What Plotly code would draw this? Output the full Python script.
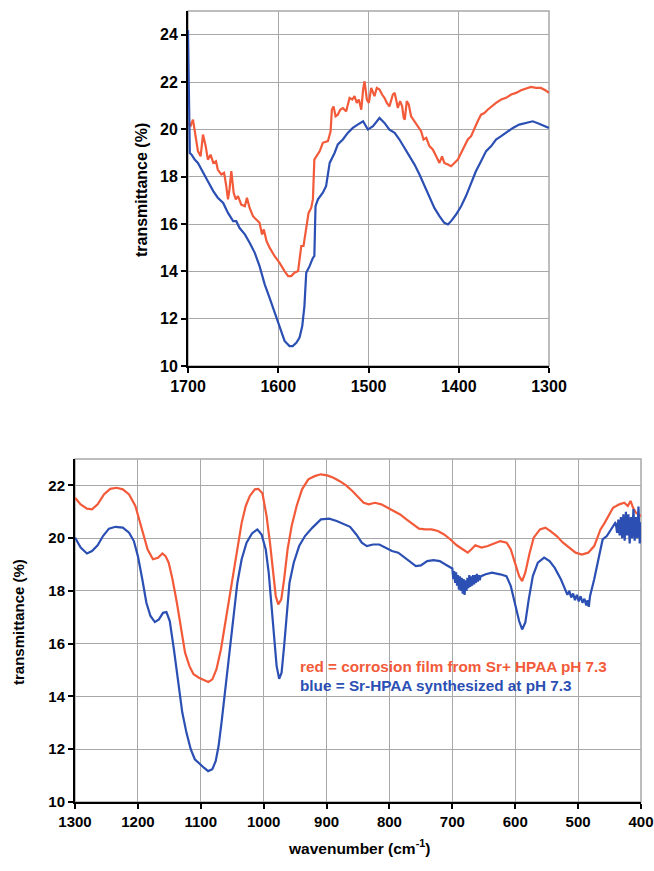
import plotly.graph_objects as go

# ---------------- data: top panel (1700-1300 cm-1) ----------------
top_wn_red = [1700, 1697, 1694.5, 1692.6, 1689, 1686, 1683.4, 1680.4, 1678, 1675, 1672, 1669, 1667, 1663, 1660,
              1657.6, 1655.7, 1654, 1652, 1649.4, 1647, 1644.6, 1641, 1637, 1634.7, 1631.7, 1628, 1624.4, 1620.7,
              1618, 1616, 1613, 1609.6, 1604, 1598.5, 1593, 1589, 1585.6, 1582, 1578, 1576.4, 1574.5, 1572, 1569,
              1566.4, 1563.5, 1561.6, 1560, 1558, 1554, 1550.6, 1545, 1542, 1540.6, 1538.7, 1536.5, 1534, 1531.4,
              1528.4, 1524.7, 1521, 1518, 1515.5, 1513, 1510.7, 1508, 1506, 1504.4, 1501.8, 1499.6, 1497, 1495,
              1493.4, 1490.8, 1487.8, 1485, 1482.3, 1479.7, 1476.8, 1473, 1471, 1469.4, 1467.5, 1465, 1462.7, 1461,
              1459.8, 1457.6, 1455.4, 1452.8, 1449, 1445.4, 1441.7, 1439, 1436, 1432.5, 1428.8, 1425, 1421.4, 1418.5,
              1416, 1412, 1408.5, 1404.8, 1401, 1397.4, 1393.7, 1390, 1386.3, 1382.7, 1379, 1375.3, 1371.6, 1368,
              1364, 1358.7, 1353, 1347.6, 1342, 1336.5, 1331, 1325.5, 1320, 1314.4, 1309, 1304, 1300]
top_t_red = [20.27, 20.16, 20.41, 19.99, 19.08, 18.86, 19.78, 19.29, 18.72, 18.93, 18.58, 18.65, 18.30, 18.09, 18.16,
             17.60, 17.04, 17.46, 18.23, 17.32, 17.04, 17.18, 16.82, 16.75, 17.11, 16.68, 16.33, 16.19, 16.05,
             15.56, 15.77, 15.28, 15.00, 14.64, 14.36, 14.01, 13.80, 13.80, 13.94, 14.01, 14.50, 15.07, 15.07, 15.91,
             16.47, 16.68, 17.04, 18.72, 18.86, 19.08, 19.43, 19.50, 19.92, 20.83, 20.97, 20.55, 20.62, 20.83,
             20.90, 20.76, 21.33, 21.26, 21.40, 21.12, 21.26, 20.83, 21.68, 22.03, 21.26, 21.12, 21.75, 21.54,
             21.40, 21.75, 21.68, 21.47, 21.33, 21.12, 20.97, 21.47, 21.54, 21.26, 20.90, 21.19, 20.97, 20.48,
             20.41, 21.19, 21.05, 20.55, 20.34, 20.13, 19.92, 19.57, 19.64, 19.29, 19.15, 18.86, 18.58, 18.86,
             18.58, 18.51, 18.44, 18.58, 18.72, 19.00, 19.29, 19.57, 19.71, 20.06, 20.34, 20.62, 20.69, 20.83,
             20.97, 21.12, 21.26, 21.33, 21.47, 21.54, 21.65, 21.72, 21.79, 21.75, 21.75, 21.65, 21.54]

top_wn_blue = [1700, 1699, 1698, 1696, 1692.6, 1689, 1683.4, 1678, 1672, 1667, 1661, 1655.7, 1650, 1646.5, 1643, 1637,
               1631.7, 1626, 1620.7, 1615, 1609.6, 1604, 1598.5, 1593, 1587.5, 1584, 1580, 1576.4, 1573.4, 1571,
               1569, 1565.3, 1561.6, 1560, 1558.7, 1556, 1550.6, 1547, 1543, 1537.6, 1534, 1528.4, 1523, 1517.4,
               1512, 1506, 1500.7, 1495, 1487.8, 1482.3, 1476.8, 1471, 1465.7, 1460, 1454.6, 1449, 1443.5, 1438,
               1432.5, 1427, 1421.4, 1416, 1412, 1408.5, 1403, 1397.4, 1392, 1386.3, 1381, 1375.3, 1369.7, 1364,
               1358.7, 1353, 1347.6, 1340, 1333, 1325.5, 1318, 1311, 1300]
top_t_blue = [24.2, 20.3, 19.0, 18.93, 18.72, 18.58, 18.16, 17.81, 17.39, 17.11, 16.89, 16.47, 16.12, 16.12, 15.84, 15.56,
              15.21, 14.78, 14.22, 13.45, 12.88, 12.25, 11.62, 11.06, 10.84, 10.84, 10.98, 11.20, 11.69, 12.53,
              13.94, 14.22, 14.57, 14.64, 16.75, 17.04, 17.32, 17.60, 18.58, 19.00, 19.36, 19.57, 19.85, 20.06,
              20.20, 20.34, 19.99, 20.13, 20.48, 20.27, 19.99, 19.85, 19.57, 19.22, 18.86, 18.51, 18.09, 17.60,
              17.11, 16.68, 16.33, 16.05, 15.98, 16.12, 16.40, 16.75, 17.18, 17.74, 18.23, 18.65, 19.08, 19.29,
              19.57, 19.71, 19.85, 20.06, 20.20, 20.27, 20.34, 20.24, 20.06]

# ---------------- data: bottom panel (1300-400 cm-1) ----------------
bot_wn_red = [1300, 1291, 1281, 1273, 1264, 1254, 1244, 1234, 1224, 1214, 1204, 1198, 1191, 1184.5, 1176, 1168, 1161,
              1156, 1151, 1145, 1138, 1131, 1125, 1118, 1111.5, 1103, 1095, 1088, 1081.6, 1075, 1068, 1062, 1055,
              1048.5, 1042, 1035, 1028.5, 1022, 1014, 1008.6, 1002, 995.4, 990, 985.4, 980.8, 976.8, 972, 967.5,
              962, 955.5, 947.6, 939, 929, 919, 909, 899, 889, 879, 869, 859, 849, 841, 833, 823, 813, 803, 793,
              783, 773, 763, 753, 743, 733, 723, 713, 703, 693, 683, 675.5, 670, 663.5, 653.6, 643.6, 633.6, 623.7,
              613.7, 607, 600.5, 593.8, 589, 584, 577, 570.6, 560.6, 552, 544, 534, 524, 514, 504, 494, 484, 474.4,
              464.4, 457.8, 451, 444.5, 434.5, 426.6, 421, 416.6, 412.6, 408, 400]
bot_t_red = [21.53, 21.28, 21.12, 21.09, 21.28, 21.66, 21.87, 21.91, 21.85, 21.66, 21.22, 20.71, 20.08, 19.57, 19.20,
             19.26, 19.42, 19.32, 19.07, 18.44, 17.55, 16.54, 15.66, 15.15, 14.84, 14.71, 14.62, 14.55, 14.65, 15.03,
             15.78, 16.67, 17.68, 18.69, 19.70, 20.58, 21.22, 21.60, 21.85, 21.87, 21.70, 20.84, 19.83, 18.69,
             17.81, 17.49, 17.68, 18.44, 19.57, 20.46, 21.22, 21.85, 22.23, 22.35, 22.42, 22.38, 22.29, 22.16,
             22.00, 21.79, 21.53, 21.34, 21.28, 21.34, 21.28, 21.15, 21.03, 20.90, 20.71, 20.52, 20.36, 20.33,
             20.33, 20.27, 20.14, 19.95, 19.73, 19.57, 19.45, 19.57, 19.73, 19.64, 19.70, 19.80, 19.89, 19.83,
             19.57, 19.07, 18.56, 18.37, 18.69, 19.45, 20.02, 20.33, 20.40, 20.27, 20.08, 19.83, 19.64, 19.45,
             19.38, 19.45, 19.70, 20.33, 20.58, 20.90, 21.15, 21.28, 21.34, 21.22, 21.41, 21.15, 20.96, 20.84]

bot_wn_blue = [1300, 1291, 1281, 1273, 1264, 1255.5, 1246, 1235.6, 1224, 1214, 1206.4, 1200, 1193, 1186.5, 1180,
               1173, 1166.6, 1160, 1154.6, 1149.3, 1142.7, 1136, 1129.4, 1122.8, 1116, 1109.5, 1101.6, 1095, 1088.3,
               1081.6, 1076.3, 1071.7, 1067, 1061.7, 1055, 1048.5, 1041.8, 1035, 1027.2, 1018.6, 1010, 1003.3,
               996.7, 992, 987.4, 983.4, 979.4, 975.4, 971.5, 967.5, 963.5, 958.9, 952.2, 943.6, 934.3, 922.4, 909,
               895.8, 883.9, 872.6, 862.6, 852.7, 844, 836, 826, 816, 806, 796, 786, 776, 766, 758, 750, 740, 730,
               720, 711, 703,
               700, 698.5, 697, 695.5, 694, 692.5, 691, 689.5, 688, 686.5, 685, 683.5, 682, 680.5, 679, 677.5, 676,
               674.5, 673, 671.5, 670, 668.5, 667, 665.5, 664, 662.5, 661, 659.5, 658, 656.5, 655,
               647, 637, 624, 614, 607, 600.5, 593.8, 589, 584, 578.5, 572, 564, 554, 545.4, 537.4, 527.4,
               520, 517, 514, 511, 508, 505, 502, 499, 496, 493, 490, 487, 485, 483, 481, 474.4, 467.7, 461, 454.4,
               447.7, 441,
               440, 438, 436, 434, 432, 430, 428, 426, 424, 422, 420, 418, 416, 414, 412, 410, 408, 406, 404, 402, 400]
bot_t_blue = [20.02, 19.64, 19.42, 19.51, 19.73, 20.08, 20.36, 20.43, 20.40, 20.21, 19.89, 19.32, 18.44, 17.55, 17.05,
              16.82, 16.92, 17.17, 17.20, 16.86, 15.78, 14.52, 13.39, 12.63, 12.00, 11.62, 11.43, 11.30, 11.17,
              11.24, 11.55, 12.12, 13.01, 14.14, 15.66, 17.05, 18.31, 19.20, 19.83, 20.18, 20.33, 20.14, 19.57,
              18.69, 17.43, 16.16, 15.15, 14.67, 14.90, 15.91, 17.17, 18.31, 19.07, 19.70, 20.08, 20.40, 20.71,
              20.74, 20.65, 20.52, 20.43, 20.14, 19.83, 19.70, 19.76, 19.76, 19.64, 19.51, 19.45, 19.26, 19.07,
              18.94, 18.97, 19.13, 19.17, 19.13, 19.00, 18.88,
              18.85, 18.45, 18.75, 18.30, 18.70, 18.20, 18.60, 18.05, 18.55, 18.00, 18.50, 17.90, 18.45, 17.85,
              18.40, 18.00, 18.50, 18.10, 18.60, 18.15, 18.55, 18.20, 18.60, 18.25, 18.60, 18.30, 18.65, 18.35,
              18.60, 18.40, 18.55,
              18.63, 18.69, 18.63, 18.56, 18.18, 17.55, 16.86, 16.54, 16.80, 17.68, 18.56, 19.07, 19.26, 19.13,
              18.88, 18.44,
              18.05, 17.85, 18.00, 17.75, 17.90, 17.65, 17.85, 17.60, 17.80, 17.55, 17.70, 17.45, 17.65, 17.40,
              17.81, 18.44, 19.20, 19.95, 20.08, 20.33, 20.58,
              20.55, 20.20, 20.70, 20.10, 20.80, 20.00, 20.90, 19.90, 21.00, 20.10, 20.90, 19.80, 20.80, 20.00,
              21.10, 19.90, 20.80, 20.00, 21.20, 19.80, 20.60]

# ---------------- ticks ----------------
top_xticks = [1700, 1600, 1500, 1400, 1300]
top_yticks = [10, 12, 14, 16, 18, 20, 22, 24]
bot_xticks = [1300, 1200, 1100, 1000, 900, 800, 700, 600, 500, 400]
bot_yticks = [10, 12, 14, 16, 18, 20, 22]

legend_red = "red = corrosion film from Sr+ HPAA pH 7.3"
legend_blue = "blue = Sr-HPAA synthesized at pH 7.3"
ytitle = "transmittance (%)"
xtitle = "wavenumber (cm<sup>-1</sup>)"

RED = "#F25A3A"
BLUE = "#2B4FB3"
GRID = "#A8A8A8"
FONT = "Liberation Sans, Arial, sans-serif"

W, H = 654, 871

fig = go.Figure()
fig.add_trace(go.Scatter(x=top_wn_red, y=top_t_red, mode="lines", line=dict(color=RED, width=2.2),
                         xaxis="x", yaxis="y", showlegend=False))
fig.add_trace(go.Scatter(x=top_wn_blue, y=top_t_blue, mode="lines", line=dict(color=BLUE, width=2.2),
                         xaxis="x", yaxis="y", showlegend=False))
fig.add_trace(go.Scatter(x=bot_wn_red, y=bot_t_red, mode="lines", line=dict(color=RED, width=2.2),
                         xaxis="x2", yaxis="y2", showlegend=False))
fig.add_trace(go.Scatter(x=bot_wn_blue, y=bot_t_blue, mode="lines", line=dict(color=BLUE, width=2.2),
                         xaxis="x2", yaxis="y2", showlegend=False))


def px_x(p):
    return p / W


def px_y(p):
    return (H - p) / H


axis_common = dict(showgrid=True, gridcolor=GRID, gridwidth=1, zeroline=False, showline=True,
                   linecolor="black", linewidth=2, ticks="outside", ticklen=5, tickwidth=2,
                   tickcolor="black", automargin=False)

fig.update_layout(
    width=W, height=H, autosize=False,
    margin=dict(l=0, r=0, t=0, b=0),
    paper_bgcolor="white", plot_bgcolor="white",
    font=dict(family=FONT, color="black"),
    xaxis=dict(domain=[px_x(188), px_x(549)], range=[1700, 1300], tickvals=top_xticks, anchor="y",
               tickfont=dict(size=16, weight="bold"), **axis_common),
    yaxis=dict(domain=[px_y(366), px_y(11)], range=[10, 25], tickvals=top_yticks, anchor="x",
               tickfont=dict(size=16, weight="bold"), **axis_common),
    xaxis2=dict(domain=[px_x(75), px_x(641)], range=[1300, 400], tickvals=bot_xticks, anchor="y2",
                tickfont=dict(size=15, weight="bold"), **axis_common),
    yaxis2=dict(domain=[px_y(802), px_y(459)], range=[10, 23], tickvals=bot_yticks, anchor="x2",
                tickfont=dict(size=15, weight="bold"), **axis_common),
    shapes=[
        dict(type="rect", xref="x domain", yref="y domain", x0=0, x1=1, y0=0, y1=1,
             line=dict(color=GRID, width=1.5), layer="below"),
        dict(type="rect", xref="x2 domain", yref="y2 domain", x0=0, x1=1, y0=0, y1=1,
             line=dict(color=GRID, width=1.5), layer="below"),
    ],
    annotations=[
        dict(text=ytitle, x=px_x(142), y=px_y(190), xref="paper", yref="paper", textangle=-90,
             showarrow=False, xanchor="center", yanchor="middle",
             font=dict(size=16, weight="bold", family=FONT)),
        dict(text=ytitle, x=px_x(18), y=px_y(622), xref="paper", yref="paper", textangle=-90,
             showarrow=False, xanchor="center", yanchor="middle",
             font=dict(size=15, weight="bold", family=FONT)),
        dict(text=xtitle, x=px_x(359), y=px_y(847), xref="paper", yref="paper",
             showarrow=False, xanchor="center", yanchor="middle",
             font=dict(size=15.5, weight="bold", family=FONT)),
        dict(text=legend_red, x=px_x(298), y=px_y(666), xref="paper", yref="paper",
             showarrow=False, xanchor="left", yanchor="middle",
             font=dict(size=15.3, weight="bold", family=FONT, color=RED)),
        dict(text=legend_blue, x=px_x(298), y=px_y(685), xref="paper", yref="paper",
             showarrow=False, xanchor="left", yanchor="middle",
             font=dict(size=15.3, weight="bold", family=FONT, color=BLUE)),
    ],
)

fig.write_html("out.html", config={"displayModeBar": False},
               post_script="document.body.style.margin='0px';document.body.style.overflow='hidden';")
